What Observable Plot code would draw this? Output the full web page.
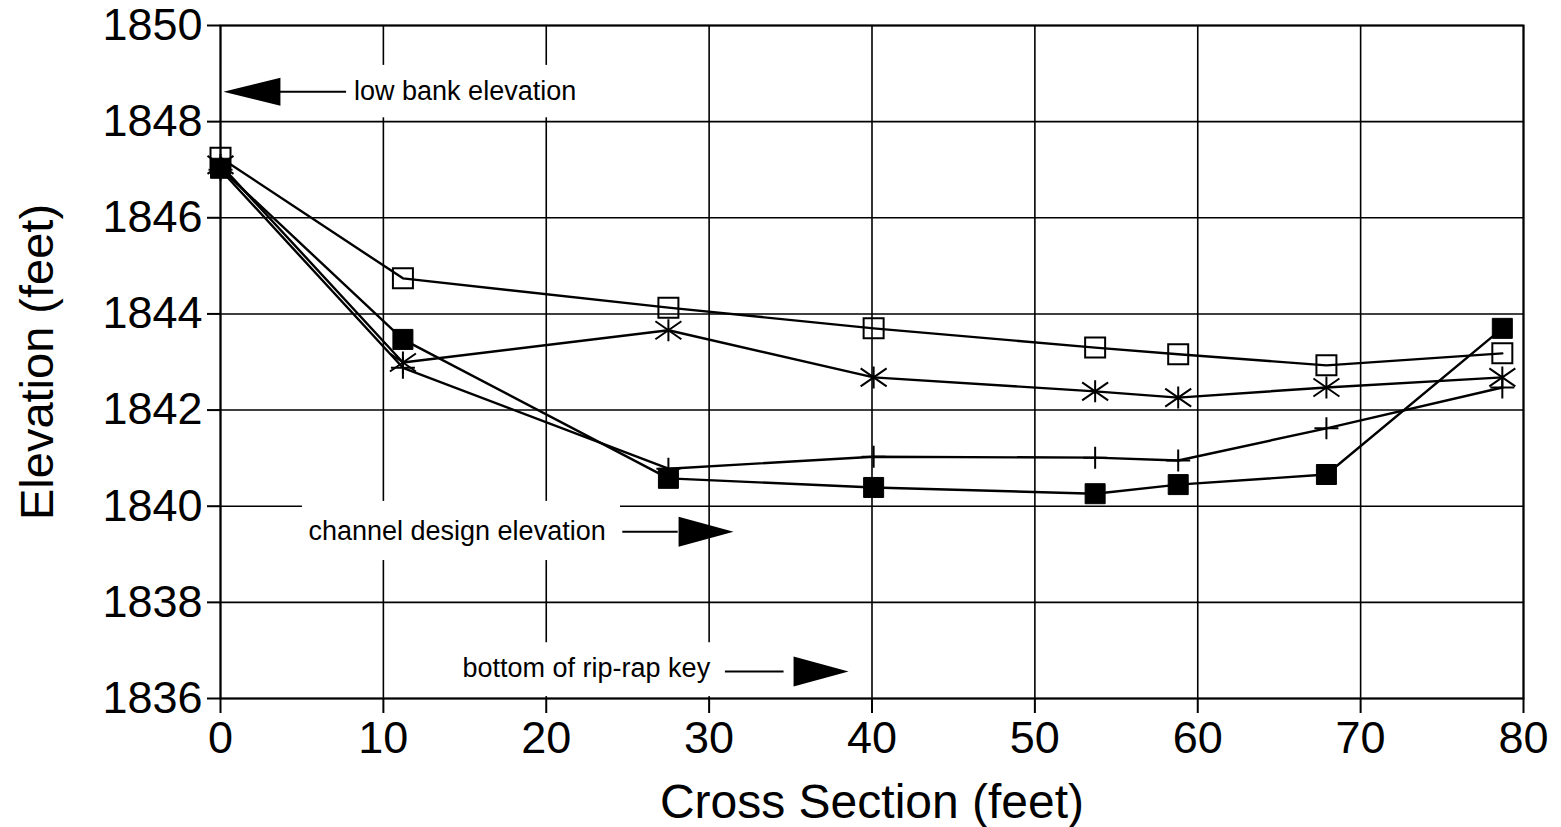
<!DOCTYPE html>
<html><head><meta charset="utf-8">
<script src="https://cdn.jsdelivr.net/npm/d3@7"></script>
<script src="https://cdn.jsdelivr.net/npm/@observablehq/plot@0.6"></script>
<style>
html,body{margin:0;padding:0;background:#fff;}
</style></head><body><div id="chart"></div>
<script>
// ---- data ----
const crossSection = [0, 11.2, 27.5, 40.1, 53.7, 58.8, 67.9, 78.7];
const openSquareSeries = [1847.25, 1844.74, 1844.13, 1843.70, 1843.30, 1843.16, 1842.93, 1843.18];
const asteriskSeries   = [1847.10, 1842.99, 1843.66, 1842.68, 1842.39, 1842.26, 1842.47, 1842.68];
const plusSeries       = [1847.00, 1842.88, 1840.78, 1841.03, 1841.01, 1840.95, 1841.62, 1842.47];
const filledSquareSeries = [1847.03, 1843.47, 1840.58, 1840.39, 1840.26, 1840.45, 1840.66, 1843.70];

const xTicks = [0, 10, 20, 30, 40, 50, 60, 70, 80];
const yTicks = [1836, 1838, 1840, 1842, 1844, 1846, 1848, 1850];

const annotationLabels = ["low bank elevation", "channel design elevation", "bottom of rip-rap key"];
const annotationTextX = [8.2, 5.4, 14.86];
const annotationTextY = [1848.62, 1839.47, 1836.63];
const arrowShaftX1 = [3.68, 24.7, 31.0];
const arrowShaftX2 = [7.74, 28.1, 34.6];
const arrowTipX = [0.18, 31.5, 38.56];
const arrowY = [1848.62, 1839.47, 1836.56];
const arrowDir = ["left", "right", "right"];
// white label boxes that interrupt the grid
const boxX1 = [0.12, 5.03, 14.1];
const boxX2 = [23.3, 24.56, 39.3];
const boxY1 = [1848.08, 1838.87, 1836.04];
const boxY2 = [1849.17, 1840.10, 1837.16];

// ---- tables ----
const table = (ys) => crossSection.map((x, i) => ({x, y: ys[i]}));
const openSq = table(openSquareSeries);
const aster = table(asteriskSeries);
const plus = table(plusSeries);
const filled = table(filledSquareSeries);
const annotations = annotationLabels.map((t, i) => ({text: t, x: annotationTextX[i], y: annotationTextY[i]}));
const arrows = annotationLabels.map((t, i) => ({x1: arrowShaftX1[i], x2: arrowShaftX2[i], tip: arrowTipX[i], y: arrowY[i], dir: arrowDir[i]}));
const boxes = boxX1.map((v, i) => ({x1: v, x2: boxX2[i], y1: boxY1[i], y2: boxY2[i]}));

// ---- custom symbols ----
const squareSym = {draw(c) { const s = 10; c.moveTo(-s, -s); c.lineTo(s, -s); c.lineTo(s, s); c.lineTo(-s, s); c.closePath(); }};
const asteriskSym = {draw(c) { c.moveTo(0, -11); c.lineTo(0, 11); c.moveTo(-13, -9); c.lineTo(13, 9); c.moveTo(-13, 9); c.lineTo(13, -9); }};
const plusSym = {draw(c) { c.moveTo(-12, 0); c.lineTo(12, 0); c.moveTo(0, -11); c.lineTo(0, 11); }};
const triLeft = {draw(c) { c.moveTo(0, 0); c.lineTo(57, -14); c.lineTo(57, 14); c.closePath(); }};
const triRight = {draw(c) { c.moveTo(0, 0); c.lineTo(-55, -15); c.lineTo(-55, 15); c.closePath(); }};

const font = "'Liberation Sans', Arial, Helvetica, sans-serif";

const chart = Plot.plot({
  width: 1561,
  height: 827,
  marginLeft: 220,
  marginRight: 38,
  marginTop: 25,
  marginBottom: 129,
  style: {fontFamily: font, background: "white", color: "black", overflow: "visible"},
  x: {domain: [0, 80]},
  y: {domain: [1836, 1850]},
  marks: [
    Plot.ruleX(xTicks, {stroke: "black", strokeWidth: 1.6}),
    Plot.ruleY(yTicks, {stroke: "black", strokeWidth: 1.6}),
    Plot.rect(boxes, {x1: "x1", x2: "x2", y1: "y1", y2: "y2", fill: "white"}),
    Plot.frame({stroke: "black", strokeWidth: 2}),
    Plot.axisX({ticks: xTicks, tickSize: 15, tickPadding: 8, fontSize: 45, label: null, tickFormat: d => String(d), strokeWidth: 2}),
    Plot.axisY({ticks: yTicks, tickSize: 13, tickPadding: 5, fontSize: 45, label: null, tickFormat: d => String(d), strokeWidth: 2}),
    Plot.line(openSq, {x: "x", y: "y", stroke: "black", strokeWidth: 2.4}),
    Plot.line(aster, {x: "x", y: "y", stroke: "black", strokeWidth: 2.4}),
    Plot.line(plus, {x: "x", y: "y", stroke: "black", strokeWidth: 2.4}),
    Plot.line(filled, {x: "x", y: "y", stroke: "black", strokeWidth: 2.4}),
    Plot.dot(openSq, {x: "x", y: "y", symbol: squareSym, fill: "none", stroke: "black", strokeWidth: 2}),
    Plot.dot(aster, {x: "x", y: "y", symbol: asteriskSym, fill: "none", stroke: "black", strokeWidth: 2}),
    Plot.dot(plus, {x: "x", y: "y", symbol: plusSym, fill: "none", stroke: "black", strokeWidth: 2}),
    Plot.dot(filled, {x: "x", y: "y", symbol: squareSym, fill: "black", stroke: "black", strokeWidth: 1}),
    Plot.text(annotations, {x: "x", y: "y", text: "text", textAnchor: "start", lineAnchor: "middle", fontSize: 27, fill: "black"}),
    Plot.ruleY(arrows, {y: "y", x1: "x1", x2: "x2", stroke: "black", strokeWidth: 2}),
    Plot.dot(arrows.filter(d => d.dir === "left"), {x: "tip", y: "y", symbol: triLeft, fill: "black", stroke: "none"}),
    Plot.dot(arrows.filter(d => d.dir === "right"), {x: "tip", y: "y", symbol: triRight, fill: "black", stroke: "none"}),
    Plot.text(["Cross Section (feet)"], {frameAnchor: "bottom", dy: 119, lineAnchor: "bottom", textAnchor: "middle", fontSize: 48, fill: "black"}),
    Plot.text(["Elevation (feet)"], {frameAnchor: "left", dx: -168, rotate: -90, lineAnchor: "bottom", textAnchor: "middle", fontSize: 47, fill: "black"})
  ]
});
document.getElementById("chart").appendChild(chart);
</script>
</body></html>
